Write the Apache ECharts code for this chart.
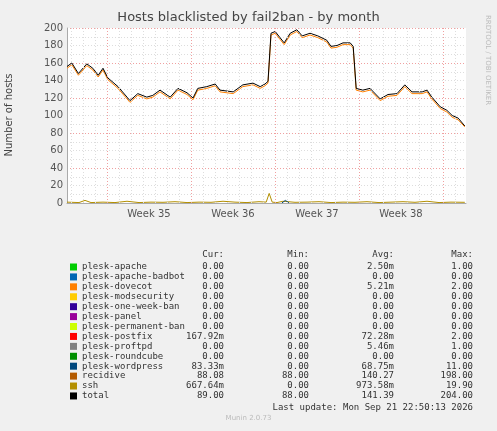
<!DOCTYPE html><html><head><meta charset="utf-8"><script src="https://cdn.jsdelivr.net/npm/echarts@6/dist/echarts.min.js"></script>
<style>html,body{margin:0;background:#f0f0f0}#c{width:497px;height:431px}</style></head><body><div id="c"></div><script>
const days=[0,0.4,0.95,1.65,2.15,2.6,3.0,3.4,4.25,5.0,5.25,5.9,6.65,7.15,7.75,8.6,9.25,10.0,10.5,10.9,11.65,12.35,12.75,13.85,14.65,15.5,16.1,16.5,16.75,17.0,17.35,17.75,18.1,18.6,19.15,19.6,20.25,20.9,21.65,22.0,22.5,23.0,23.6,23.85,24.1,24.65,25.25,26.1,26.75,27.5,28.15,28.75,29.6,30.0,30.4,31.1,31.65,32.1,32.6,33.15];
const total=[156,160,148,159,154,146,154,143,133,121,117,125,121,123,129,121,131,126,120,131,133,136,129,127,135,137,133,136,139,194,196,189,183,194,198,191,194,191,186,179,180,183,183,179,131,129,131,119,124,125,135,127,127,129,121,110,106,100,97,88];
const recidive=[154,158,146,157,152,144,152,141,131,119,115,123,119,121,127,119,129,124,118,129,131,134,127,125,133,135,131,134,137,192,194,187,181,192,196,189,192,189,184,177,178,181,181,177,129,127,129,117,122,123,133,125,125,127,119,108,104,98,95,87];
const sshDays=[0,1,1.5,2,3,4,5,6,7,8,9,10,11,12,13,14,15,16,16.6,16.85,17.1,17.5,18,19,20,21,22,23,24,25,26,27,28,29,30,31,32,33.15];
const ssh=[1,0.5,3,0.5,1,0.5,2,0.5,1,0.8,1.5,0.5,1,0.8,2,1,0.5,1.5,1,11,1,0.5,2,0.8,1,1.5,0.5,1,0.8,1.5,0.5,1,1.5,0.8,2,0.5,1,0.8];
const wpDays=[17.9,18.2,18.5];const wp=[0,3,0];
const weekLines=[3.33,10.33,17.33,24.33,31.33];
const weekLabels=['Week 35','Week 36','Week 37','Week 38'];
const weekCenters=[6.83,13.83,20.83,27.83];
const dayLines=[];for(let d=0.33;d<33.25;d+=1)dayLines.push(d);
const legend=[
['plesk-apache','#00CC00','0.00','0.00','2.50m','1.00'],
['plesk-apache-badbot','#0066B3','0.00','0.00','0.00','0.00'],
['plesk-dovecot','#FF8000','0.00','0.00','5.21m','2.00'],
['plesk-modsecurity','#FFCC00','0.00','0.00','0.00','0.00'],
['plesk-one-week-ban','#330099','0.00','0.00','0.00','0.00'],
['plesk-panel','#990099','0.00','0.00','0.00','0.00'],
['plesk-permanent-ban','#CCFF00','0.00','0.00','0.00','0.00'],
['plesk-postfix','#FF0000','167.92m','0.00','72.28m','2.00'],
['plesk-proftpd','#808080','0.00','0.00','5.46m','1.00'],
['plesk-roundcube','#008F00','0.00','0.00','0.00','0.00'],
['plesk-wordpress','#00487D','83.33m','0.00','68.75m','11.00'],
['recidive','#B35A00','88.08','88.00','140.27','198.00'],
['ssh','#B38F00','667.64m','0.00','973.58m','19.90'],
['total','#000000','89.00','88.00','141.39','204.00']];
const mono='DejaVu Sans Mono';
const g=[];
g.push({type:'text',left:'center',top:11,style:{text:'Hosts blacklisted by fail2ban - by month',font:'13px "DejaVu Sans"',fill:'#444'}});
g.push({type:'text',x:4,y:115,rotation:Math.PI/2,style:{text:'Number of hosts',font:'10px "DejaVu Sans"',fill:'#444',align:'center',verticalAlign:'top'}});
g.push({type:'text',x:488,y:60,rotation:-Math.PI/2,style:{text:'RRDTOOL / TOBI OETIKER',font:'7px "DejaVu Sans"',fill:'#bbb',align:'center',verticalAlign:'middle'}});
const hy=255;
[['Cur:',224],['Min:',309],['Avg:',394],['Max:',473]].forEach(h=>g.push({type:'text',x:h[1],y:hy,style:{text:h[0],font:'9px '+mono,fill:'#333',align:'right',verticalAlign:'middle'}}));
legend.forEach((r,i)=>{const y=267+i*9.92;
g.push({type:'rect',shape:{x:70,y:y-3.5,width:7,height:7},style:{fill:r[1]}});
g.push({type:'text',x:82,y:y,style:{text:r[0],font:'9px '+mono,fill:'#333',verticalAlign:'middle'}});
[224,309,394,473].forEach((x,j)=>g.push({type:'text',x:x,y:y,style:{text:r[2+j],font:'9px '+mono,fill:'#333',align:'right',verticalAlign:'middle'}}));});
g.push({type:'text',x:473,y:408,style:{text:'Last update: Mon Sep 21 22:50:13 2026',font:'9px '+mono,fill:'#333',align:'right',verticalAlign:'middle'}});
g.push({type:'text',left:'center',top:415,style:{text:'Munin 2.0.73',font:'7px "DejaVu Sans"',fill:'#bbb'}});
const zip=(a,b)=>a.map((v,i)=>[v,b[i]]);
const ml=(arr,color)=>({silent:true,symbol:'none',label:{show:false},lineStyle:{color:color,type:[1,2],width:1},data:arr.map(v=>({xAxis:v}))});
const c=echarts.init(document.getElementById('c'));
c.setOption({animation:false,backgroundColor:'#f0f0f0',graphic:g,
grid:{left:67,right:31,top:28,bottom:228,backgroundColor:'#fff',show:true,borderWidth:0},
xAxis:{type:'value',min:0,max:33.25,axisLine:{lineStyle:{color:'#aaa'}},axisTick:{show:false},splitLine:{show:false},
axisLabel:{customValues:weekCenters,formatter:v=>weekLabels[weekCenters.indexOf(v)]||'',color:'#555',fontSize:10,fontFamily:'DejaVu Sans',margin:6}},
yAxis:[{type:'value',min:0,max:200,interval:20,axisLine:{show:true,lineStyle:{color:'#aaa'}},axisTick:{show:false},axisLabel:{color:'#555',fontSize:10,fontFamily:'DejaVu Sans',margin:4},splitLine:{show:false}},
{type:'value',min:0,max:200,interval:40,show:true,axisLine:{show:false},axisLabel:{show:false},axisTick:{show:false},
splitLine:{lineStyle:{color:'#f0a0a0',type:[1,2]}},minorTick:{show:false,splitNumber:4},minorSplitLine:{show:true,lineStyle:{color:'#ddd',type:[1,2]}}}],
series:[
{type:'line',yAxisIndex:1,data:[],markLine:ml(dayLines,'#ddd')},
{type:'line',yAxisIndex:1,data:[],markLine:ml(weekLines,'#f0a0a0')},
{type:'line',data:zip(sshDays,ssh),symbol:'none',lineStyle:{color:'#B38F00',width:1}},
{type:'line',data:zip(wpDays,wp),symbol:'none',lineStyle:{color:'#00487D',width:1}},
{type:'line',data:zip(days,recidive),symbol:'none',lineStyle:{color:'#FF8000',width:1}},
{type:'line',data:zip(days,total),symbol:'none',lineStyle:{color:'#000',width:1}}]});
</script></body></html>
